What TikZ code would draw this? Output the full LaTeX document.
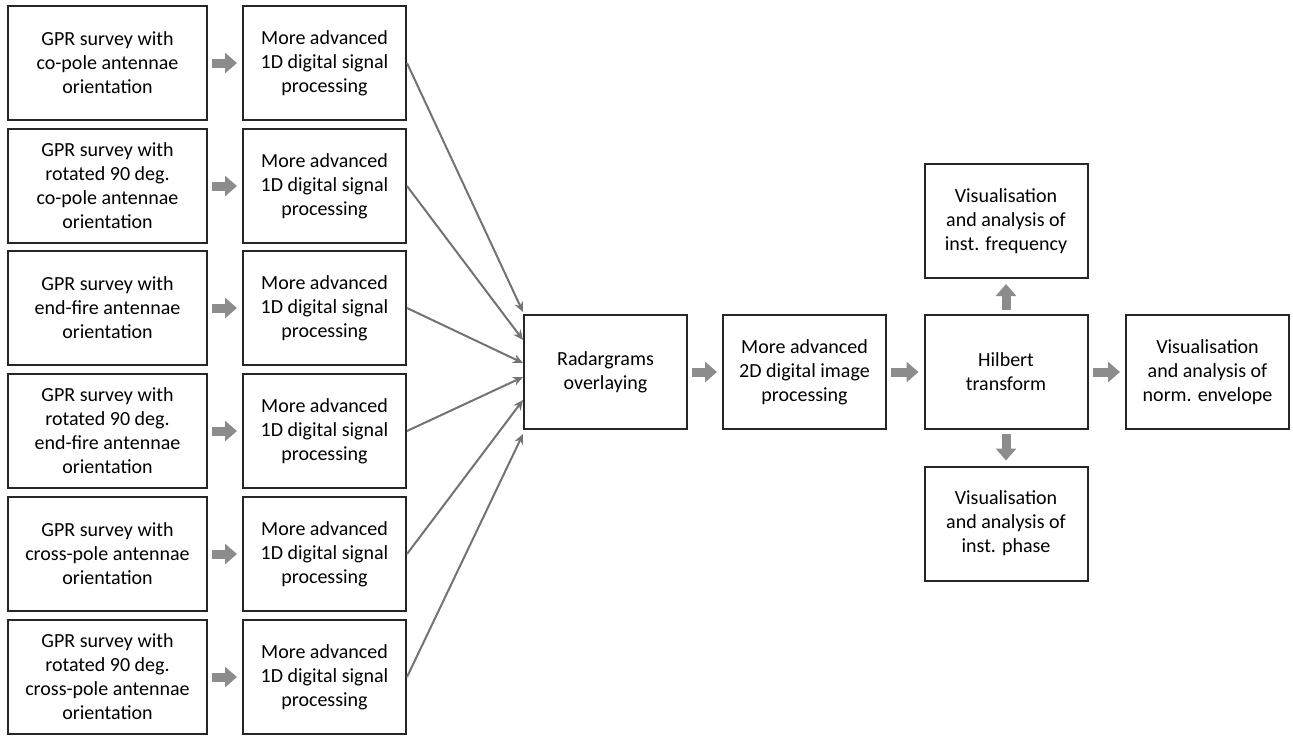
\documentclass[tikz,border=0pt]{standalone}
\usepackage{fontspec}
\setmainfont{Carlito}
\usepackage{tikz}
\usetikzlibrary{arrows.meta,positioning}

\begin{document}
\begin{tikzpicture}[
  x=0.5pt, y=-0.5pt,
  font=\fontsize{10}{12}\selectfont,
  box/.style={draw=black!85, line width=1pt, align=center, minimum height=57pt, inner sep=2pt},
  wbox/.style={box, minimum width=99.5pt},
  nbox/.style={box, minimum width=81.5pt},
  blk/.style={-{Triangle[length=6pt, width=10pt]}, line width=4.5pt, black!45, shorten <=2pt, shorten >=2.5pt},
  thn/.style={-{Stealth[length=5pt, width=4.5pt]}, line width=1pt, black!55},
]
\useasboundingbox (0,0) rectangle (1293,736);
\def\A{107.5}\def\B{324.5}
% surveys
\node[wbox] (s1) at (\A,63) {GPR survey with\\co-pole antennae\\orientation};
\node[wbox] (s2) at (\A,186) {GPR survey with\\rotated 90 deg.\\co-pole antennae\\orientation};
\node[wbox] (s3) at (\A,308) {GPR survey with\\end-fire antennae\\orientation};
\node[wbox] (s4) at (\A,431) {GPR survey with\\rotated 90 deg.\\end-fire antennae\\orientation};
\node[wbox] (s5) at (\A,554) {GPR survey with\\cross-pole antennae\\orientation};
\node[wbox] (s6) at (\A,677) {GPR survey with\\rotated 90 deg.\\cross-pole antennae\\orientation};
% 1D processing
\node[nbox] (p1) at (\B,63) {More advanced\\1D digital signal\\processing};
\node[nbox] (p2) at (\B,186) {More advanced\\1D digital signal\\processing};
\node[nbox] (p3) at (\B,308) {More advanced\\1D digital signal\\processing};
\node[nbox] (p4) at (\B,431) {More advanced\\1D digital signal\\processing};
\node[nbox] (p5) at (\B,554) {More advanced\\1D digital signal\\processing};
\node[nbox] (p6) at (\B,677) {More advanced\\1D digital signal\\processing};
% main chain
\node[nbox] (radar) at (605.5,372) {Radargrams\\overlaying};
\node[nbox] (proc2d) at (804.5,372) {More advanced\\2D digital image\\processing};
\node[nbox] (hilb) at (1006,372) {Hilbert\\transform};
\node[nbox] (env) at (1207.5,372) {Visualisation\\and analysis of\\norm. envelope};
\node[nbox] (freq) at (1006,221) {Visualisation\\and analysis of\\inst. frequency};
\node[nbox] (phase) at (1006,523.5) {Visualisation\\and analysis of\\inst. phase};
% block arrows
\draw[blk] (s1) -- (p1);
\draw[blk] (s2) -- (p2);
\draw[blk] (s3) -- (p3);
\draw[blk] (s4) -- (p4);
\draw[blk] (s5) -- (p5);
\draw[blk] (s6) -- (p6);
\draw[blk] (radar) -- (proc2d);
\draw[blk] (proc2d) -- (hilb);
\draw[blk] (hilb) -- (env);
\draw[blk] (hilb) -- (freq);
\draw[blk] (hilb) -- (phase);
% fan-in to overlaying
\draw[thn] (p1.east) -- ([yshift=30pt]radar.west);
\draw[thn] (p2.east) -- ([yshift=16pt]radar.west);
\draw[thn] (p3.east) -- ([yshift=4.5pt]radar.west);
\draw[thn] (p4.east) -- ([yshift=-2.5pt]radar.west);
\draw[thn] (p5.east) -- ([yshift=-14pt]radar.west);
\draw[thn] (p6.east) -- ([yshift=-31pt]radar.west);
\end{tikzpicture}
\end{document}
